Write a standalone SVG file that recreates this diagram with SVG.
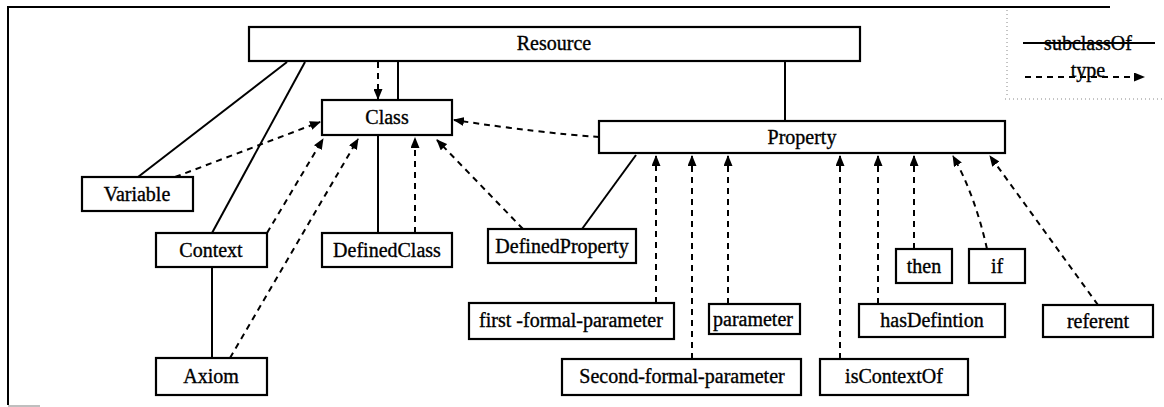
<svg xmlns="http://www.w3.org/2000/svg" width="1164" height="407" viewBox="0 0 1164 407">
<style>
.box{fill:#fff;stroke:#000;stroke-width:2.2}
.lbl{font-family:"Liberation Serif","Times New Roman",serif;font-size:20px;fill:#000;stroke:#000;stroke-width:0.35;text-anchor:middle}
.sub{fill:none;stroke:#000;stroke-width:2}
.typ{fill:none;stroke:#000;stroke-width:2;stroke-dasharray:6 5}
.frame{fill:none;stroke:#000;stroke-width:2}
.leg{fill:none;stroke:#888;stroke-width:1;stroke-dasharray:1 3}
</style>
<defs>
<marker id="ah" markerUnits="userSpaceOnUse" markerWidth="11" markerHeight="9" refX="10" refY="4.5" orient="auto">
<path d="M0,0 L11,4.5 L0,9 z" fill="#000"/>
</marker>
</defs>
<rect width="1164" height="407" fill="#fff"/>
<g id="frame">
<path class="frame" d="M8,405 L8,7 L1110,7"/>
<path d="M8,406 L40,406" stroke="#aaa" stroke-width="1.5"/>
</g>
<g id="legend">
<path class="leg" d="M1007,10 L1007,98 M1005,99 L1164,99"/>
<path class="sub" d="M1023,43 L1155,43"/>
<text class="lbl" x="1088" y="50">subclassOf</text>
<path class="typ" d="M1025,77 L1144,77" marker-end="url(#ah)"/>
<text class="lbl" x="1088" y="77">type</text>
</g>
<g id="connectors">
<path class="sub" d="M398,61 L398,100"/>
<path class="sub" d="M785,61 L785,121"/>
<path class="sub" d="M138,177 L287,62"/>
<path class="sub" d="M212,233 L305,62"/>
<path class="sub" d="M212,267 L212,358"/>
<path class="sub" d="M378,135 L378,233"/>
<path class="sub" d="M582,229 L636,155"/>
<path class="typ" d="M378,62 L378,99" marker-end="url(#ah)"/>
<path class="typ" d="M599,137 Q540,133 454,120" marker-end="url(#ah)"/>
<path class="typ" d="M175,177 L320,122" marker-end="url(#ah)"/>
<path class="typ" d="M267,233 L323,139" marker-end="url(#ah)"/>
<path class="typ" d="M230,358 L358,139" marker-end="url(#ah)"/>
<path class="typ" d="M415,233 L415,138" marker-end="url(#ah)"/>
<path class="typ" d="M523,229 L437,140" marker-end="url(#ah)"/>
<path class="typ" d="M656,303 L656,156" marker-end="url(#ah)"/>
<path class="typ" d="M692,359 L692,156" marker-end="url(#ah)"/>
<path class="typ" d="M728,304 L728,156" marker-end="url(#ah)"/>
<path class="typ" d="M840,359 L840,156" marker-end="url(#ah)"/>
<path class="typ" d="M878,304 L878,156" marker-end="url(#ah)"/>
<path class="typ" d="M914,249 L914,156" marker-end="url(#ah)"/>
<path class="typ" d="M987,249 Q975,195 953,156" marker-end="url(#ah)"/>
<path class="typ" d="M1098,305 L990,156" marker-end="url(#ah)"/>
</g>
<g id="resource"><rect class="box" x="249" y="27" width="611" height="34"/><text class="lbl" x="554" y="50">Resource</text></g>
<g id="class"><rect class="box" x="322" y="100" width="130" height="35"/><text class="lbl" x="387" y="124">Class</text></g>
<g id="property"><rect class="box" x="599" y="121" width="406" height="32"/><text class="lbl" x="802" y="144">Property</text></g>
<g id="variable"><rect class="box" x="82" y="177" width="111" height="34"/><text class="lbl" x="137" y="201">Variable</text></g>
<g id="context"><rect class="box" x="156" y="233" width="111" height="34"/><text class="lbl" x="211" y="257">Context</text></g>
<g id="axiom"><rect class="box" x="156" y="358" width="111" height="37"/><text class="lbl" x="211" y="383">Axiom</text></g>
<g id="definedclass"><rect class="box" x="322" y="233" width="130" height="34"/><text class="lbl" x="387" y="257">DefinedClass</text></g>
<g id="definedproperty"><rect class="box" x="488" y="229" width="148" height="34"/><text class="lbl" x="562" y="253">DefinedProperty</text></g>
<g id="first-formal-parameter"><rect class="box" x="469" y="303" width="205" height="36"/><text class="lbl" x="571" y="327">first -formal-parameter</text></g>
<g id="parameter"><rect class="box" x="709" y="304" width="91" height="30"/><text class="lbl" x="753" y="326">parameter</text></g>
<g id="second-formal-parameter"><rect class="box" x="562" y="359" width="239" height="36"/><text class="lbl" x="682" y="383">Second-formal-parameter</text></g>
<g id="iscontextof"><rect class="box" x="820" y="359" width="148" height="36"/><text class="lbl" x="894" y="383">isContextOf</text></g>
<g id="hasdefintion"><rect class="box" x="859" y="304" width="146" height="33"/><text class="lbl" x="932" y="327">hasDefintion</text></g>
<g id="then"><rect class="box" x="896" y="249" width="56" height="34"/><text class="lbl" x="924" y="273">then</text></g>
<g id="if"><rect class="box" x="969" y="249" width="56" height="34"/><text class="lbl" x="997" y="273">if</text></g>
<g id="referent"><rect class="box" x="1043" y="305" width="110" height="32"/><text class="lbl" x="1098" y="328">referent</text></g>
</svg>
